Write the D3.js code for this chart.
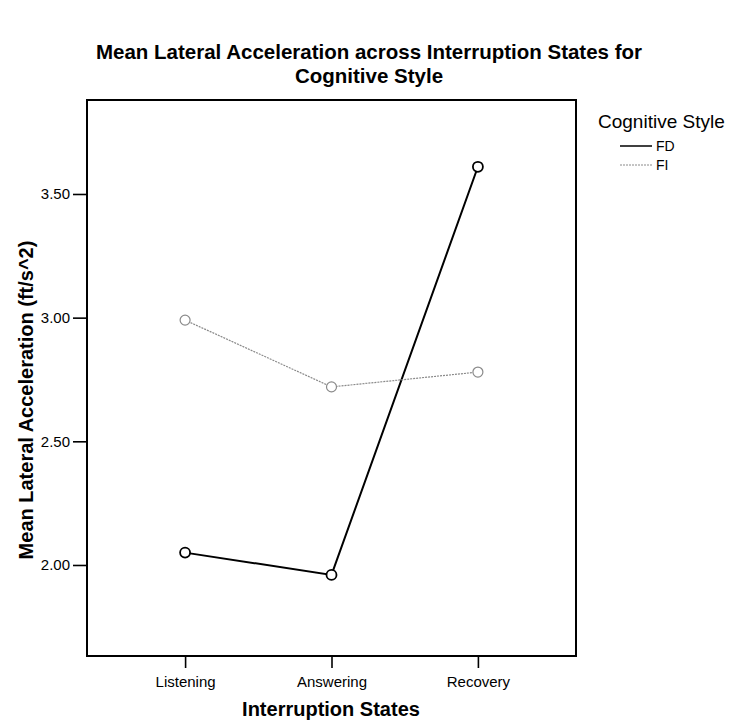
<!DOCTYPE html>
<html>
<head>
<meta charset="utf-8">
<script src="https://cdn.jsdelivr.net/npm/d3@7"></script>
<style>
  html, body { margin: 0; padding: 0; background: #fff; }
  svg { display: block; font-family: Arial, "Liberation Sans", Helvetica, sans-serif; }
</style>
</head>
<body>
<svg id="chart" width="738" height="721"></svg>
<script>
// Interruption states on the x axis
const states = ["Listening", "Answering", "Recovery"];
// Mean lateral acceleration (ft/s^2) per cognitive style
const fdValues = [2.05, 1.96, 3.61];
const fiValues = [2.99, 2.72, 2.78];
const seriesNames = ["FD", "FI"];
const yTicks = [2.00, 2.50, 3.00, 3.50];

const svg = d3.select("#chart");
const box = { left: 87, right: 576, top: 100, bottom: 656 };

const x = d3.scalePoint()
  .domain(states)
  .range([box.left, box.right])
  .padding(0.67);

const y = d3.scaleLinear()
  .domain([1.632, 3.88])
  .range([box.bottom, box.top]);

// Title
svg.append("text")
  .attr("x", 369).attr("y", 59)
  .attr("text-anchor", "middle")
  .attr("font-size", 20.5).attr("font-weight", "bold")
  .text("Mean Lateral Acceleration across Interruption States for");
svg.append("text")
  .attr("x", 369).attr("y", 83)
  .attr("text-anchor", "middle")
  .attr("font-size", 20.5).attr("font-weight", "bold")
  .text("Cognitive Style");

// Frame
svg.append("rect")
  .attr("x", box.left).attr("y", box.top)
  .attr("width", box.right - box.left).attr("height", box.bottom - box.top)
  .attr("fill", "none").attr("stroke", "#000").attr("stroke-width", 2);

// Axes
const yAxis = svg.append("g")
  .attr("transform", `translate(${box.left},0)`)
  .call(d3.axisLeft(y).tickValues(yTicks).tickFormat(d3.format(".2f")).tickSize(14).tickPadding(3));
yAxis.select(".domain").remove();
yAxis.selectAll(".tick line").attr("stroke", "#000").attr("stroke-width", 1.6);
yAxis.selectAll(".tick text").attr("font-size", 15).attr("fill", "#000")
  .attr("font-family", "Arial, 'Liberation Sans', sans-serif");

const xAxis = svg.append("g")
  .attr("transform", `translate(0,${box.bottom})`)
  .call(d3.axisBottom(x).tickSize(12).tickPadding(8));
xAxis.select(".domain").remove();
xAxis.selectAll(".tick line").attr("stroke", "#000").attr("stroke-width", 1.6);
xAxis.selectAll(".tick text").attr("font-size", 15).attr("fill", "#000")
  .attr("font-family", "Arial, 'Liberation Sans', sans-serif");

// Axis titles
svg.append("text")
  .attr("x", 331).attr("y", 716)
  .attr("text-anchor", "middle")
  .attr("font-size", 20).attr("font-weight", "bold")
  .text("Interruption States");
svg.append("text")
  .attr("transform", `translate(33,400) rotate(-90)`)
  .attr("text-anchor", "middle")
  .attr("font-size", 20).attr("font-weight", "bold")
  .text("Mean Lateral Acceleration (ft/s^2)");

// Series
const series = [
  { name: seriesNames[0], values: fdValues, color: "#000", width: 2, dash: null },
  { name: seriesNames[1], values: fiValues, color: "#8a8a8a", width: 1.2, dash: "2,1" }
];

const line = d3.line()
  .x((d, i) => x(states[i]))
  .y(d => y(d));

series.forEach(s => {
  svg.append("path")
    .datum(s.values)
    .attr("d", line)
    .attr("fill", "none")
    .attr("stroke", s.color)
    .attr("stroke-width", s.width)
    .attr("stroke-dasharray", s.dash);
  svg.selectAll(null)
    .data(s.values)
    .enter().append("circle")
    .attr("cx", (d, i) => x(states[i]))
    .attr("cy", d => y(d))
    .attr("r", 5)
    .attr("fill", "#fff")
    .attr("stroke", s.color)
    .attr("stroke-width", s.width === 2 ? 1.8 : 1.2);
});

// Legend
const legend = svg.append("g");
legend.append("text")
  .attr("x", 598).attr("y", 128)
  .attr("font-size", 19)
  .text("Cognitive Style");
series.forEach((s, i) => {
  const ly = 146 + i * 19;
  legend.append("line")
    .attr("x1", 620).attr("x2", 652)
    .attr("y1", ly).attr("y2", ly)
    .attr("stroke", s.color).attr("stroke-width", s.width === 2 ? 1.5 : 1)
    .attr("stroke-dasharray", s.dash);
  legend.append("text")
    .attr("x", 656).attr("y", ly + 5)
    .attr("font-size", 14)
    .text(s.name);
});
</script>
</body>
</html>
